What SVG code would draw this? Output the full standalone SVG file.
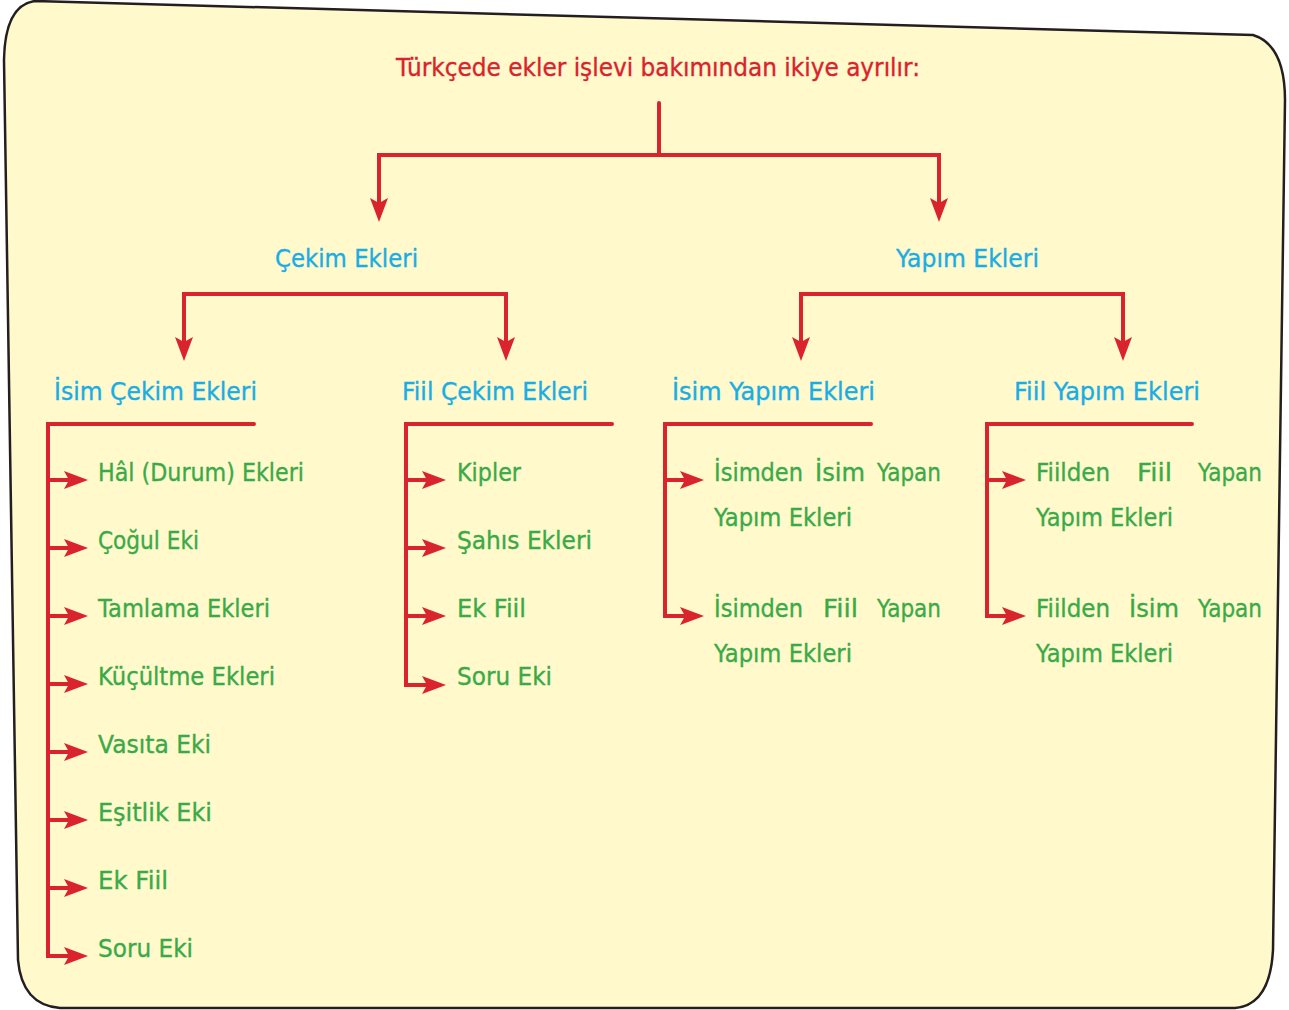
<svg xmlns="http://www.w3.org/2000/svg" width="1289" height="1010" viewBox="0 0 1289 1010">
<defs>
<style>
.bg{fill:#FFF9CC;stroke:#231F20;stroke-width:2.5}
.ln{fill:none;stroke:#D9232D;stroke-width:4;stroke-linecap:round;stroke-linejoin:miter}
.ar{fill:none;stroke:#D9232D;stroke-width:4;stroke-linecap:butt;marker-end:url(#ah)}
.t{font-family:"DejaVu Sans","Liberation Sans",sans-serif;font-size:24px;stroke-width:0.35px}
.red{fill:#D9232D;stroke:#D9232D}
.blue{fill:#1AADE4;stroke:#1AADE4}
.green{fill:#3AAA48;stroke:#3AAA48}
</style>
<marker id="ah" viewBox="0 -9 24 18" refX="5" refY="0" markerWidth="24" markerHeight="18" markerUnits="userSpaceOnUse" orient="auto-start-reverse">
<path d="M0,-9 L24,0 L0,9 L5,0 Z" fill="#D9232D"/>
</marker>
</defs>
<path class="bg" d="M35,1 L1253,35 Q1285,45 1285,100 L1273,950 Q1270,1005 1235,1008 L60,1008 Q22,1005 18,960 L4,60 Q5,5 35,1 Z"/>

<g id="root"><text class="t red" x="396" y="76" textLength="524" lengthAdjust="spacingAndGlyphs">Türkçede ekler işlevi bakımından ikiye ayrılır:</text></g>

<g id="cekim"><text class="t blue" x="275" y="267" textLength="143" lengthAdjust="spacingAndGlyphs">Çekim Ekleri</text></g>
<g id="yapim"><text class="t blue" x="896" y="267" textLength="143" lengthAdjust="spacingAndGlyphs">Yapım Ekleri</text></g>

<g id="isim-cekim"><text class="t blue" x="54" y="400" textLength="203" lengthAdjust="spacingAndGlyphs">İsim Çekim Ekleri</text></g>
<g id="fiil-cekim"><text class="t blue" x="402" y="400" textLength="186" lengthAdjust="spacingAndGlyphs">Fiil Çekim Ekleri</text></g>
<g id="isim-yapim"><text class="t blue" x="672" y="400" textLength="203" lengthAdjust="spacingAndGlyphs">İsim Yapım Ekleri</text></g>
<g id="fiil-yapim"><text class="t blue" x="1014" y="400" textLength="186" lengthAdjust="spacingAndGlyphs">Fiil Yapım Ekleri</text></g>

<g id="ic-1"><text class="t green" x="98" y="481" textLength="206" lengthAdjust="spacingAndGlyphs">Hâl (Durum) Ekleri</text></g>
<g id="ic-2"><text class="t green" x="98" y="549" textLength="101" lengthAdjust="spacingAndGlyphs">Çoğul Eki</text></g>
<g id="ic-3"><text class="t green" x="98" y="617" textLength="172" lengthAdjust="spacingAndGlyphs">Tamlama Ekleri</text></g>
<g id="ic-4"><text class="t green" x="98" y="685" textLength="177" lengthAdjust="spacingAndGlyphs">Küçültme Ekleri</text></g>
<g id="ic-5"><text class="t green" x="98" y="753" textLength="113" lengthAdjust="spacingAndGlyphs">Vasıta Eki</text></g>
<g id="ic-6"><text class="t green" x="98" y="821" textLength="114" lengthAdjust="spacingAndGlyphs">Eşitlik Eki</text></g>
<g id="ic-7"><text class="t green" x="98" y="889" textLength="70" lengthAdjust="spacingAndGlyphs">Ek Fiil</text></g>
<g id="ic-8"><text class="t green" x="98" y="957" textLength="95" lengthAdjust="spacingAndGlyphs">Soru Eki</text></g>

<g id="fc-1"><text class="t green" x="457" y="481" textLength="64" lengthAdjust="spacingAndGlyphs">Kipler</text></g>
<g id="fc-2"><text class="t green" x="457" y="549" textLength="135" lengthAdjust="spacingAndGlyphs">Şahıs Ekleri</text></g>
<g id="fc-3"><text class="t green" x="457" y="617" textLength="69" lengthAdjust="spacingAndGlyphs">Ek Fiil</text></g>
<g id="fc-4"><text class="t green" x="457" y="685" textLength="95" lengthAdjust="spacingAndGlyphs">Soru Eki</text></g>

<g id="iy-1"><text class="t green" y="481"><tspan x="714" textLength="89" lengthAdjust="spacingAndGlyphs">İsimden</tspan> <tspan x="815" textLength="50" lengthAdjust="spacingAndGlyphs">İsim</tspan> <tspan x="877" textLength="64" lengthAdjust="spacingAndGlyphs">Yapan</tspan><tspan x="714" y="526" textLength="138" lengthAdjust="spacingAndGlyphs">Yapım Ekleri</tspan></text></g>
<g id="iy-2"><text class="t green" y="617"><tspan x="714" textLength="89" lengthAdjust="spacingAndGlyphs">İsimden</tspan> <tspan x="823" textLength="35" lengthAdjust="spacingAndGlyphs">Fiil</tspan> <tspan x="877" textLength="64" lengthAdjust="spacingAndGlyphs">Yapan</tspan><tspan x="714" y="662" textLength="138" lengthAdjust="spacingAndGlyphs">Yapım Ekleri</tspan></text></g>
<g id="fy-1"><text class="t green" y="481"><tspan x="1036" textLength="74" lengthAdjust="spacingAndGlyphs">Fiilden</tspan> <tspan x="1137" textLength="35" lengthAdjust="spacingAndGlyphs">Fiil</tspan> <tspan x="1198" textLength="64" lengthAdjust="spacingAndGlyphs">Yapan</tspan><tspan x="1036" y="526" textLength="137" lengthAdjust="spacingAndGlyphs">Yapım Ekleri</tspan></text></g>
<g id="fy-2"><text class="t green" y="617"><tspan x="1036" textLength="74" lengthAdjust="spacingAndGlyphs">Fiilden</tspan> <tspan x="1129" textLength="50" lengthAdjust="spacingAndGlyphs">İsim</tspan> <tspan x="1198" textLength="64" lengthAdjust="spacingAndGlyphs">Yapan</tspan><tspan x="1036" y="662" textLength="137" lengthAdjust="spacingAndGlyphs">Yapım Ekleri</tspan></text></g>

<g id="connectors">
<path class="ln" d="M659,103 V155"/>
<path class="ln" d="M379,203 V155 H939 V203" style="marker-start:url(#ah);marker-end:url(#ah);stroke-linecap:butt"/>
<path class="ln" d="M184,342 V294 H506 V342" style="marker-start:url(#ah);marker-end:url(#ah);stroke-linecap:butt"/>
<path class="ln" d="M801,342 V294 H1123 V342" style="marker-start:url(#ah);marker-end:url(#ah);stroke-linecap:butt"/>

<path class="ln" d="M254,424 H48 V956"/>
<path class="ar" d="M48,480 H69"/>
<path class="ar" d="M48,548 H69"/>
<path class="ar" d="M48,616 H69"/>
<path class="ar" d="M48,684 H69"/>
<path class="ar" d="M48,752 H69"/>
<path class="ar" d="M48,820 H69"/>
<path class="ar" d="M48,888 H69"/>
<path class="ar" d="M46,956 H69"/>

<path class="ln" d="M612,424 H406 V685"/>
<path class="ar" d="M406,480 H427"/>
<path class="ar" d="M406,548 H427"/>
<path class="ar" d="M406,616 H427"/>
<path class="ar" d="M404,685 H427"/>

<path class="ln" d="M871,424 H665 V616"/>
<path class="ar" d="M665,480 H685"/>
<path class="ar" d="M663,616 H685"/>

<path class="ln" d="M1192,424 H987 V616"/>
<path class="ar" d="M987,480 H1007"/>
<path class="ar" d="M985,616 H1007"/>
</g>
</svg>
